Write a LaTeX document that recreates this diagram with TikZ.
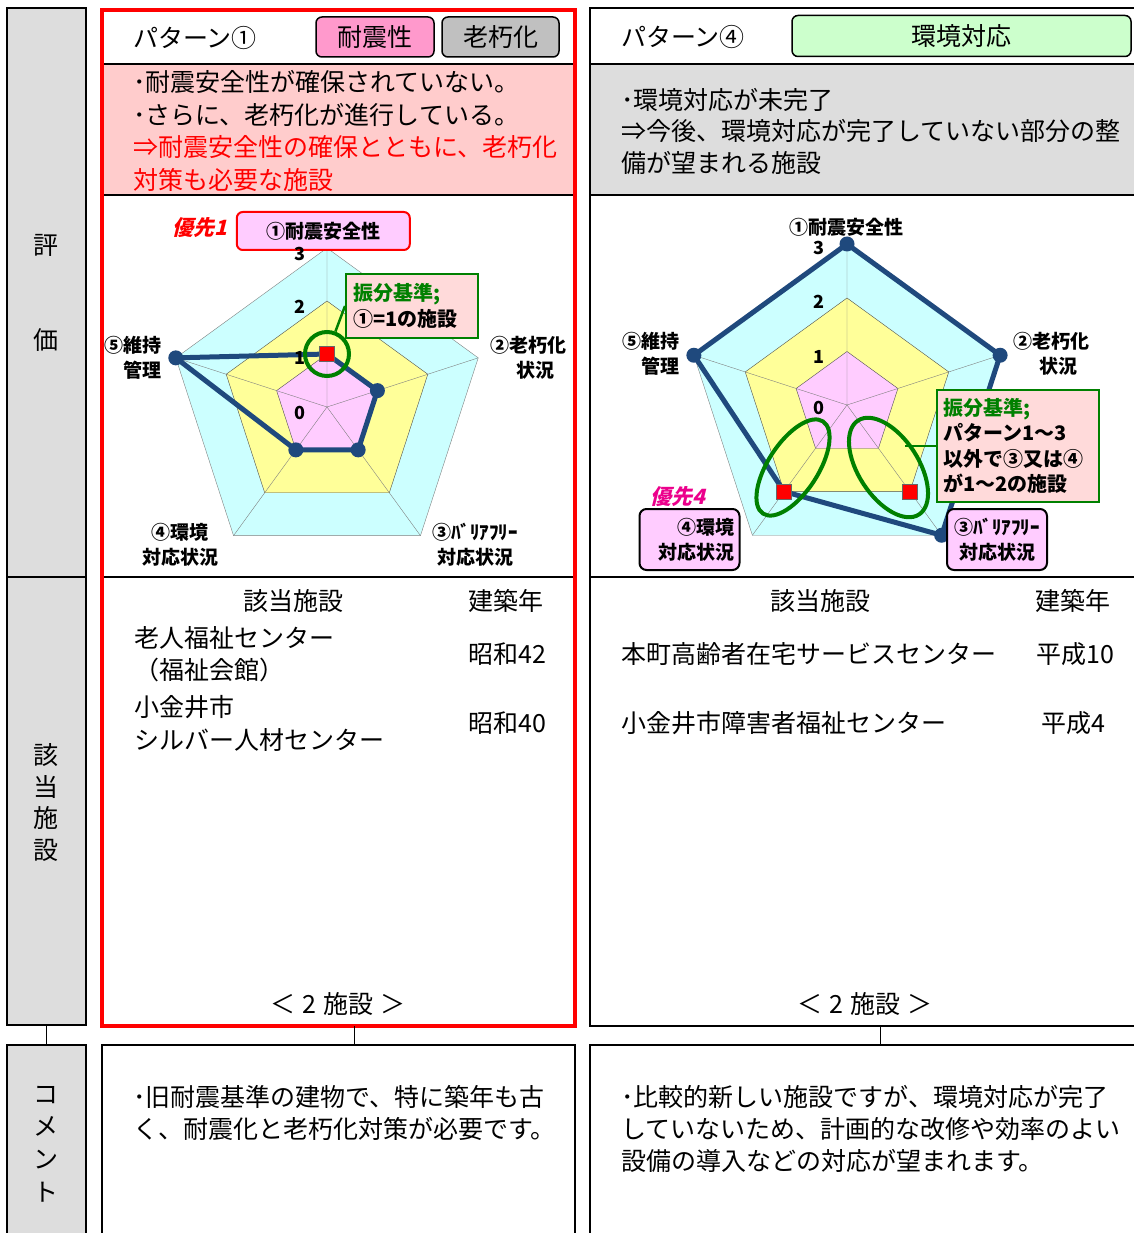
\documentclass[tikz,border=0pt]{standalone}
\usepackage{fontspec}
\setmainfont{Noto Sans CJK JP}
\newfontfamily\slantjp{Noto Sans CJK JP}[FakeSlant=0.25]
\usetikzlibrary{shapes.geometric,positioning}

\definecolor{panelgray}{RGB}{221,221,221}
\definecolor{descpink}{RGB}{255,204,204}
\definecolor{badgepink}{RGB}{255,153,204}
\definecolor{badgegray}{RGB}{192,192,192}
\definecolor{badgegreen}{RGB}{204,255,204}
\definecolor{ringcyan}{RGB}{204,255,255}
\definecolor{ringyellow}{RGB}{255,255,153}
\definecolor{ringpink}{RGB}{255,204,255}
\definecolor{critpink}{RGB}{255,218,218}
\definecolor{critgreen}{RGB}{0,128,0}
\definecolor{datablue}{RGB}{31,73,125}
\definecolor{gridgray}{RGB}{128,128,128}

\begin{document}
\begin{tikzpicture}[x=1pt, y=-1pt]
  % Styles
  \tikzstyle{colbox} = [rectangle, draw, line width=1.5pt, fill=panelgray, inner sep=0pt]
  \tikzstyle{frame} = [rectangle, draw, line width=1.5pt, inner sep=0pt]
  \tikzstyle{badge} = [rectangle, draw, line width=1.5pt, rounded corners=6pt,
    minimum height=40, font=\fontsize{25}{28}\selectfont]
  \tikzstyle{txt} = [inner sep=0pt, align=left, font=\fontsize{25}{32.5}\selectfont]
  \tikzstyle{axlbl} = [inner sep=0pt, font=\fontsize{19}{25}\selectfont\bfseries]
  \tikzstyle{lvl} = [inner sep=0pt, font=\fontsize{18}{20}\selectfont\bfseries]
  \tikzstyle{critbox} = [rectangle, draw=critgreen, line width=2pt, fill=critpink,
    inner sep=6pt, align=left, font=\fontsize{20}{25.5}\selectfont\bfseries]
  \tikzstyle{axbox} = [rectangle, draw, line width=2pt, fill=ringpink, rounded corners=7pt,
    minimum width=100, minimum height=61, inner sep=5pt, font=\fontsize{19}{25}\selectfont\bfseries]
  \tikzstyle{dot} = [circle, fill=datablue, inner sep=0pt, minimum size=15]
  \tikzstyle{redsq} = [rectangle, fill=red, draw=black!60, line width=0.6pt, inner sep=0pt, minimum size=15]
  \tikzstyle{ring} = [draw=critgreen, line width=4pt, inner sep=0pt]
  \tikzstyle{dataln} = [draw=datablue, line width=5pt, line join=round]
  \tikzstyle{prio} = [inner sep=0pt, font=\fontsize{21}{24}\selectfont\slantjp\bfseries]

  \useasboundingbox (0,0) rectangle (1134,1233);
  \clip (0,0) rectangle (1134,1233);
  \fill[white] (0,0) rectangle (1134,1233);

  % Left column
  \node[colbox, minimum width=79, minimum height=1017] (evalcol) at (46.5,516.5) {};
  \draw[line width=1.5pt] (7,577) -- (86,577);
  \node[colbox, minimum width=79, minimum height=200] (cmtcol) at (46.5,1145) {};
  \node[txt] (lblhyo) at (46,245) {評};
  \node[txt] (lblka) at (46,340) {価};
  \node[txt, align=center, font=\fontsize{25}{31.7}\selectfont] (lblfac) at (46,802.5) {該\\当\\施\\設};
  \node[txt, align=center, font=\fontsize{25}{32.7}\selectfont] (lblcmt) at (46,1144) {コ\\メ\\ン\\ト};
  \draw[line width=1pt] (evalcol.south) -- (cmtcol.north);

  % Pattern 1
  \fill[descpink] (102,64) rectangle (575,195);
  \draw[line width=1.5pt] (102,64) -- (575,64) (102,195) -- (575,195) (102,577) -- (575,577);
  \node[txt, anchor=west] (p1name) at (133,38) {パターン①};
  \node[badge, fill=badgepink, minimum width=118] (p1seis) at (375,37) {耐震性};
  \node[badge, fill=badgegray, minimum width=117] (p1aged) at (500.5,37) {老朽化};
  \node[txt, anchor=west, font=\fontsize{25}{32.7}\selectfont] (p1desc) at (133,131)
    {･耐震安全性が確保されていない。\\･さらに、老朽化が進行している。\\
     \textcolor{red}{⇒耐震安全性の確保とともに、老朽化}\\\textcolor{red}{対策も必要な施設}};

  % chart, pattern 1
  \begin{scope}[shift={(327,407)}, y=1pt]
    \filldraw[fill=ringcyan, draw=gridgray] (90:159) -- (18:159) -- (-54:159) -- (-126:159) -- (162:159) -- cycle;
    \filldraw[fill=ringyellow, draw=gridgray!60!black] (90:106) -- (18:106) -- (-54:106) -- (-126:106) -- (162:106) -- cycle;
    \filldraw[fill=ringpink, draw=gridgray!60!black] (90:53) -- (18:53) -- (-54:53) -- (-126:53) -- (162:53) -- cycle;
    \draw[gridgray] (0,0) -- (90:159) (0,0) -- (18:159) (0,0) -- (-54:159) (0,0) -- (-126:159) (0,0) -- (162:159);
    \coordinate (a1) at (90:53);
    \coordinate (a2) at (18:53);
    \coordinate (a3) at (-54:53);
    \coordinate (a4) at (-126:53);
    \coordinate (a5) at (162:159);
    \draw[dataln] (a1) -- (a2) -- (a3) -- (a4) -- (a5) -- cycle;
    \node[dot] (d12) at (a2) {};
    \node[dot] (d13) at (a3) {};
    \node[dot] (d14) at (a4) {};
    \node[dot] (d15) at (a5) {};
    \node[redsq] (sq11) at (a1) {};
    \node[ring, circle, minimum size=44] (ring1) at (a1) {};
  \end{scope}
  \node[rectangle, draw=red, line width=2pt, fill=ringpink, rounded corners=6pt,
    minimum width=173, minimum height=38, axlbl] (ax11) at (323.3,231) {①耐震安全性};
  \node[lvl] (v13) at (300,254) {3};
  \node[lvl] (v12) at (300,306.7) {2};
  \node[lvl] (v11) at (300,358) {1};
  \node[lvl] (v10) at (300,413) {0};
  \node[prio, text=red] (prio1) at (200,228) {優先1};
  \node[axlbl, align=right, anchor=east] (ax15) at (162,357.5) {⑤維持\\管理};
  \node[axlbl, align=right, anchor=east] (ax12) at (567,357.5) {②老朽化\\状況\hspace*{12pt}};
  \node[axlbl, align=center] (ax14) at (180,544.5) {④環境\\対応状況};
  \node[axlbl, align=center] (ax13) at (475,544.5) {③ﾊﾞﾘｱﾌﾘｰ\\対応状況};
  \node[critbox, minimum width=132, minimum height=64, text width=118] (crit1) at (412,306)
    {\textcolor{critgreen}{振分基準;}\\①=1の施設};
  \draw[draw=critgreen, line width=2.5pt] (crit1.west) -- (ring1);

  \node[txt] (p1fac) at (293,601) {該当施設};
  \node[txt] (p1year) at (506,601) {建築年};
  \node[txt, anchor=west, font=\fontsize{25}{32}\selectfont] (p1f1) at (134,654) {老人福祉センター\\（福祉会館）};
  \node[txt] (p1y1) at (507,654) {昭和42};
  \node[txt, anchor=west, font=\fontsize{25}{33}\selectfont] (p1f2) at (134,723.5) {小金井市\\シルバー人材センター};
  \node[txt] (p1y2) at (507,723) {昭和40};
  \node[txt] (p1count) at (338,1004) {＜\hspace{7pt}2\hspace{7pt}施設\hspace{7pt}＞};

  \node[draw=red, line width=4pt, inner sep=0pt, minimum width=473, minimum height=1016] (pat1) at (338.5,518) {};

  % Pattern 4
  \fill[panelgray] (590,64) rectangle (1145,195);
  \draw[line width=1.5pt] (590,64) -- (1145,64) (590,195) -- (1145,195) (590,577) -- (1145,577);
  \node[frame, minimum width=555, minimum height=1018] (pat4) at (867.5,517) {};
  \node[txt, anchor=west] (p4name) at (621,37) {パターン④};
  \node[badge, fill=badgegreen, minimum width=339, minimum height=41] (p4env) at (961.5,36) {環境対応};
  \node[txt, anchor=west, font=\fontsize{25}{31.5}\selectfont] (p4desc) at (621,131.3)
    {･環境対応が未完了\\⇒今後、環境対応が完了していない部分の整\\備が望まれる施設};

  % chart, pattern 4
  \begin{scope}[shift={(847,405)}, y=1pt]
    \filldraw[fill=ringcyan, draw=gridgray] (90:161) -- (18:161) -- (-54:161) -- (-126:161) -- (162:161) -- cycle;
    \filldraw[fill=ringyellow, draw=gridgray!60!black] (90:107) -- (18:107) -- (-54:107) -- (-126:107) -- (162:107) -- cycle;
    \filldraw[fill=ringpink, draw=gridgray!60!black] (90:53.5) -- (18:53.5) -- (-54:53.5) -- (-126:53.5) -- (162:53.5) -- cycle;
    \draw[gridgray] (0,0) -- (90:161) (0,0) -- (18:161) (0,0) -- (-54:161) (0,0) -- (-126:161) (0,0) -- (162:161);
    \coordinate (b1) at (90:161);
    \coordinate (b2) at (18:161);
    \coordinate (b3) at (-54:161);
    \coordinate (b4) at (-126:107);
    \coordinate (b5) at (162:161);
    \coordinate (q3) at (-54:107);
    \draw[dataln] (b1) -- (b2) -- (b3) -- (b4) -- (b5) -- cycle;
    \node[dot] (d41) at (b1) {};
    \node[dot] (d42) at (b2) {};
    \node[dot] (d43) at (b3) {};
    \node[dot] (d45) at (b5) {};
    \node[redsq] (sq44) at (b4) {};
    \node[redsq] (sq43) at (q3) {};
    \node[ring, ellipse, minimum width=110, minimum height=50, rotate=57] (ell4a) at (-54,-62.5) {};
    \node[ring, ellipse, minimum width=112, minimum height=60, rotate=-57] (ell4b) at (41.5,-62.5) {};
  \end{scope}
  \node[lvl] (v43) at (819,248) {3};
  \node[lvl] (v42) at (819,302) {2};
  \node[lvl] (v41) at (819,357) {1};
  \node[lvl] (v40) at (819,408) {0};
  \node[axlbl] (ax41) at (846,227) {①耐震安全性};
  \node[axlbl, align=right, anchor=east] (ax45) at (680,354.2) {⑤維持\\管理};
  \node[axlbl, align=right, anchor=east] (ax42) at (1090,354.2) {②老朽化\\状況\hspace*{12pt}};
  \node[axbox, text width=90, align=right] (ax44) at (689.5,539.5) {④環境\\対応状況};
  \node[axbox, align=center] (ax43) at (997,539.5) {③ﾊﾞﾘｱﾌﾘｰ\\対応状況};
  \node[prio, text=magenta] (prio4) at (677.5,497) {優先4};
  \node[critbox, minimum width=162, minimum height=112, text width=148] (crit4) at (1017.6,445.9)
    {\textcolor{critgreen}{振分基準;}\\パターン1～3\\以外で③又は④\\が1～2の施設};
  \draw[draw=critgreen, line width=2.5pt, shorten >=16pt] (crit4.west) -- (ell4b.center |- crit4.west);

  \node[txt] (p4fac) at (820,601) {該当施設};
  \node[txt] (p4year) at (1073,601) {建築年};
  \node[txt, anchor=west] (p4f1) at (621,654) {本町高齢者在宅サービスセンター};
  \node[txt] (p4y1) at (1075,654) {平成10};
  \node[txt, anchor=west] (p4f2) at (621,723) {小金井市障害者福祉センター};
  \node[txt] (p4y2) at (1073,723) {平成4};
  \node[txt] (p4count) at (865,1004) {＜\hspace{7pt}2\hspace{7pt}施設\hspace{7pt}＞};

  % Comments
  \node[frame, minimum width=473, minimum height=200] (cmt1) at (338.5,1145) {};
  \node[frame, minimum width=555, minimum height=200] (cmt4) at (867.5,1145) {};
  \coordinate (link1) at (354,1026);
  \coordinate (link4) at (880,1026);
  \draw[line width=1pt] (link1) -- (link1 |- cmt1.north);
  \draw[line width=1pt] (link4) -- (link4 |- cmt4.north);
  \node[txt, anchor=west, font=\fontsize{25}{32}\selectfont] (cmt1txt) at (133,1113)
    {･旧耐震基準の建物で、特に築年も古\\く、耐震化と老朽化対策が必要です。};
  \node[txt, anchor=west, font=\fontsize{25}{32}\selectfont] (cmt4txt) at (621,1129)
    {･比較的新しい施設ですが、環境対応が完了\\していないため、計画的な改修や効率のよい\\設備の導入などの対応が望まれます。};
\end{tikzpicture}
\end{document}
